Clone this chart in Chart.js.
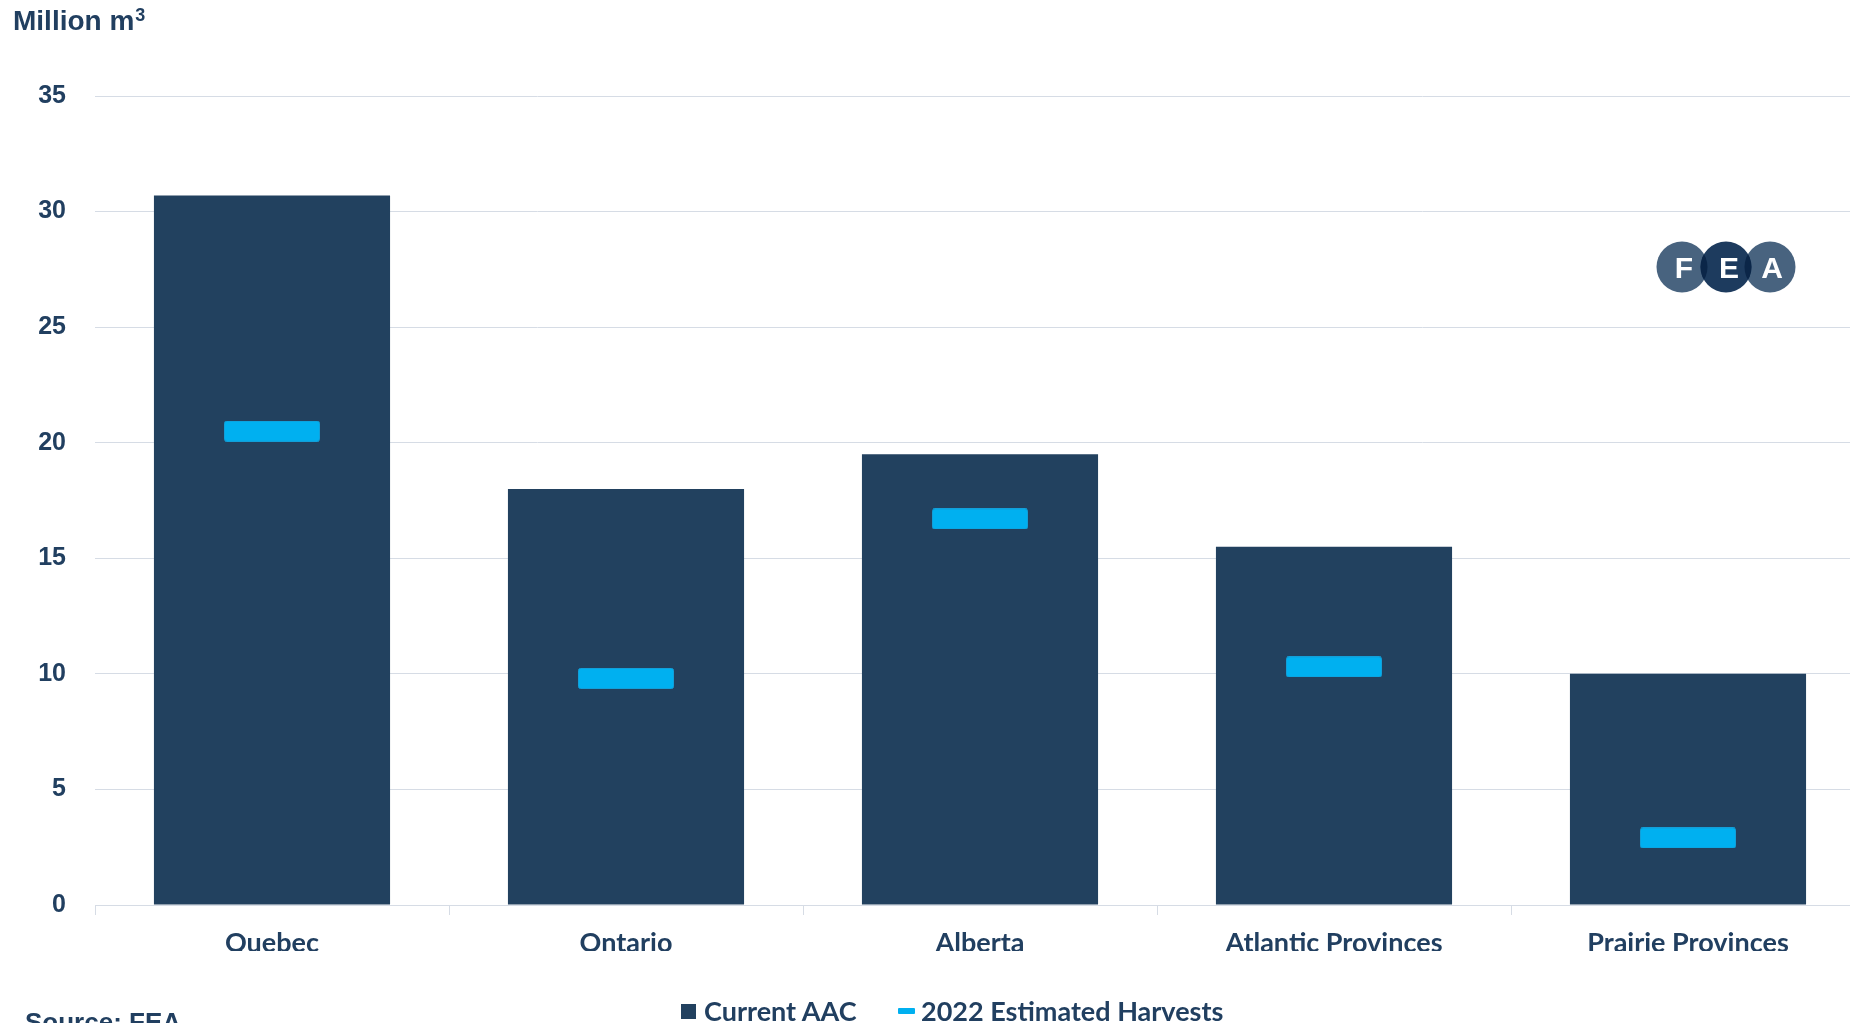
<!DOCTYPE html>
<html>
<head>
<meta charset="utf-8">
<script src="https://cdn.jsdelivr.net/npm/chart.js@4.4.1/dist/chart.umd.min.js"></script>
<style>
  html, body { margin: 0; padding: 0; background: #fff; overflow: hidden; width: 1850px; height: 1023px; }
  #wrap { position: absolute; left: 0; top: 0; width: 1870px; height: 1023px; }
  .txt { position: absolute; color: #213F60; white-space: nowrap; }
  #title { left: 13px; top: 7px; font: bold 28px "Liberation Sans", Arial, sans-serif; line-height: 28px; }
  #title sup { font-size: 18px; vertical-align: 0; position: relative; top: -9px; margin-left: 1px; }
  #source { left: 25px; top: 1009px; font: bold 26px "Liberation Sans", Arial, sans-serif; line-height: 26px; }
  .leg { top: 998px; font: bold 27px Lato, sans-serif; line-height: 26px; }
  .sw { position: absolute; }
  #logo { position: absolute; left: 1640px; top: 230px; }
</style>
</head>
<body>
<div id="wrap">
  <canvas id="chart" width="1870" height="1023"></canvas>
</div>
<div class="txt" id="title">Million m<sup>3</sup></div>
<div class="txt" id="source">Source: FEA</div>
<div class="sw" style="left:681px;top:1004px;width:15px;height:15px;background:#22415F"></div>
<div class="txt leg" style="left:704px">Current AAC</div>
<div class="sw" style="left:898px;top:1008px;width:17px;height:6px;background:#00B0F0;border-radius:1px"></div>
<div class="txt leg" style="left:921px">2022 Estimated Harvests</div>
<svg id="logo" width="180" height="80" viewBox="1640 230 180 80">
  <defs>
    <clipPath id="cF"><circle cx="1682" cy="267" r="25.5"/></clipPath>
    <clipPath id="cA"><circle cx="1770" cy="267" r="25.5"/></clipPath>
  </defs>
  <circle cx="1682" cy="267" r="25.5" fill="#48637F"/>
  <circle cx="1770" cy="267" r="25.5" fill="#48637F"/>
  <circle cx="1726" cy="267" r="25.5" fill="#1D3B5E"/>
  <circle cx="1726" cy="267" r="25.5" fill="#0B2648" clip-path="url(#cF)"/>
  <circle cx="1726" cy="267" r="25.5" fill="#0B2648" clip-path="url(#cA)"/>
  <g font-family="Liberation Sans, Arial, sans-serif" font-weight="bold" font-size="30" fill="#fff" text-anchor="middle">
    <text x="1684" y="278">F</text>
    <text x="1729" y="278">E</text>
    <text x="1772" y="278">A</text>
  </g>
</svg>
<script>
// Chart data
const categories = ['Quebec', 'Ontario', 'Alberta', 'Atlantic Provinces', 'Prairie Provinces'];
const currentAAC = [30.7, 18.0, 19.5, 15.5, 10.0];
const harvests2022 = [20.5, 9.8, 16.7, 10.3, 2.9];
const yMax = 35;
const yStep = 5;

const navy = '#22415F';
const textColor = '#213F60';
const gridColor = '#D6DCE5';

// Marker image for the harvest points (a short horizontal bar)
function makeMarker() {
  const c = document.createElement('canvas');
  c.width = 96;
  c.height = 21;
  const g = c.getContext('2d');
  g.fillStyle = '#00B0F0';
  g.strokeStyle = '#129FD9';
  g.lineWidth = 1;
  g.beginPath();
  g.roundRect(0.5, 0.5, 95, 20, 2);
  g.fill();
  g.stroke();
  return c;
}

const marker = makeMarker();

new Chart(document.getElementById('chart'), {
  type: 'bar',
  data: {
    labels: categories,
    datasets: [
      {
        type: 'line',
        label: '2022 Estimated Harvests',
        data: harvests2022,
        showLine: false,
        pointStyle: marker,
        order: 0
      },
      {
        label: 'Current AAC',
        data: currentAAC,
        backgroundColor: navy,
        borderWidth: 0,
        barPercentage: 1,
        categoryPercentage: 0.667,
        order: 1
      }
    ]
  },
  options: {
    responsive: false,
    animation: false,
    devicePixelRatio: 1,
    layout: { padding: { top: 96, right: 4, bottom: 72, left: 0 } },
    plugins: {
      legend: { display: false },
      tooltip: { enabled: false }
    },
    scales: {
      x: {
        offset: true,
        grid: {
          offset: true,
          drawOnChartArea: false,
          color: gridColor,
          tickLength: 10
        },
        border: { color: gridColor, width: 1 },
        ticks: {
          color: textColor,
          padding: 12,
          font: { family: 'Lato', weight: 'bold', size: 27 }
        },
        afterFit: scale => { scale.height = 46; }
      },
      y: {
        min: 0,
        max: yMax,
        ticks: {
          stepSize: yStep,
          color: textColor,
          padding: 29,
          font: { family: '"Liberation Sans"', weight: 'bold', size: 25 }
        },
        grid: { color: gridColor, drawTicks: false },
        border: { display: false },
        afterFit: scale => { scale.width = 95; }
      }
    }
  }
});
</script>
</body>
</html>
